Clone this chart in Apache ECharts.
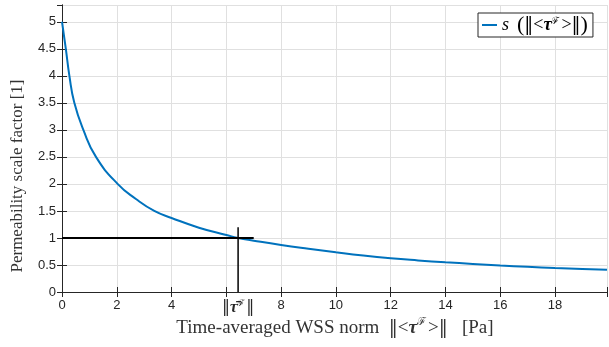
<!DOCTYPE html>
<html><head><meta charset="utf-8">
<script src="https://cdn.jsdelivr.net/npm/echarts@6/dist/echarts.min.js"></script>
<style>html,body{margin:0;padding:0;background:#fff}#c{width:609px;height:347px}</style>
</head><body><div id="c"></div>
<script>
// Curve s(||<tau>||)
const wssX = [0, 0.14, 0.27, 0.45, 0.78, 1.24, 2.03, 2.7, 3.37, 4, 5, 6, 6.43, 7, 8, 9, 10, 11, 12, 13, 14, 15, 16, 17, 18, 19, 19.9];
const scaleY = [5, 4.5, 4.0, 3.5, 3.0, 2.5, 2.0, 1.72, 1.5, 1.37, 1.19, 1.055, 1.0, 0.95, 0.87, 0.8, 0.735, 0.675, 0.625, 0.585, 0.55, 0.52, 0.49, 0.465, 0.443, 0.425, 0.41];
// reference lines
const tauBar = 6.43;
const hLineX = [0, 7];
const hLineY = [1, 1];
const vLineX = [tauBar, tauBar];
const vLineY = [0, 1.2];
// axis ticks
const xTickLabels = [0, 2, 4, tauBar, 8, 10, 12, 14, 16, 18];
const xMax = 19.9, yMax = 5.31;

const curve = wssX.map((x, i) => [x, scaleY[i]]);
const hLine = hLineX.map((x, i) => [x, hLineY[i]]);
const vLine = vLineX.map((x, i) => [x, vLineY[i]]);

const axisCol = '#262626';
const titleCol = '#333';
const serif = '"Liberation Serif","DejaVu Serif",serif';
const dserif = '"DejaVu Serif",serif';
const chart = echarts.init(document.getElementById('c'), null, {renderer: 'canvas'});
chart.setOption({
  animation: false,
  backgroundColor: '#fff',
  grid: {left: 62, right: 2, top: 5, bottom: 55},
  legend: {
    left: 478, top: 13, padding: [1, 5, 1, 4],
    backgroundColor: '#fff', borderColor: axisCol, borderWidth: 1,
    itemWidth: 15, itemHeight: 2, itemGap: 2,
    data: [{name: 's', icon: 'rect'}],
    formatter: () => '{i|s}  {p|(}{n|‖}{l|<}{t|τ}{s|ℱ}{l|>}{n|‖}{p|)}',
    textStyle: {
      fontFamily: serif, fontSize: 16, color: '#000',
      rich: {
        i: {fontStyle: 'italic', fontFamily: serif, fontSize: 18},
        p: {fontFamily: serif, fontSize: 22},
        n: {fontFamily: dserif, fontSize: 18},
        l: {fontFamily: serif, fontSize: 18},
        t: {fontFamily: serif, fontSize: 18, fontStyle: 'italic', fontWeight: 'bold'},
        s: {fontFamily: serif, fontSize: 10, verticalAlign: 'bottom', padding: [0, 2, 10, 0]}
      }
    }
  },
  xAxis: [{
    type: 'value', min: 0, max: xMax, interval: 2,
    axisLine: {show: true, onZero: false, lineStyle: {color: axisCol, width: 1}},
    axisTick: {inside: true, length: 5, lineStyle: {color: axisCol}},
    axisLabel: {
      customValues: xTickLabels,
      color: axisCol, fontFamily: '"Liberation Sans",Arial,sans-serif', fontSize: 13, margin: 7,
      formatter: v => Math.abs(v - tauBar) < 1e-6 ? '{n|‖}{t|τ̄}{s|ℱ}{n|‖}' : String(v),
      rich: {
        n: {fontFamily: dserif, fontSize: 16, color: axisCol},
        t: {fontFamily: serif, fontSize: 16, fontStyle: 'italic', fontWeight: 'bold', color: axisCol},
        s: {fontFamily: serif, fontSize: 9, verticalAlign: 'bottom', padding: [0, 2, 9, 0], color: axisCol}
      }
    },
    splitLine: {show: true, lineStyle: {color: '#e0e0e0', width: 1}}
  }, {
    type: 'value', position: 'top', min: 0, max: xMax, interval: 2,
    axisLine: {show: true, lineStyle: {color: axisCol, width: 1}},
    axisTick: {inside: true, length: 5, lineStyle: {color: axisCol}},
    axisLabel: {show: false}, splitLine: {show: false}
  }],
  yAxis: [{
    type: 'value', min: 0, max: yMax, interval: 0.5,
    axisLine: {show: true, onZero: false, lineStyle: {color: axisCol, width: 1}},
    axisTick: {show: true, inside: true, length: 5, lineStyle: {color: axisCol}},
    axisLabel: {color: axisCol, fontFamily: '"Liberation Sans",Arial,sans-serif', fontSize: 13, margin: 6, showMaxLabel: false,
      formatter: v => (v > 5.01 ? '' : String(v))},
    splitLine: {show: true, lineStyle: {color: '#e0e0e0', width: 1}}
  }, {
    type: 'value', position: 'right', min: 0, max: yMax, interval: 0.5,
    axisLine: {show: true, lineStyle: {color: axisCol, width: 1}},
    axisTick: {show: true, inside: true, length: 5, lineStyle: {color: axisCol}},
    axisLabel: {show: false}, splitLine: {show: false}
  }],
  graphic: [
    {type: 'text', x: 335, y: 328, z: 10,
     style: {text: 'Time-averaged WSS norm  {n|‖}{l|<}{t|τ}{s|ℱ}{l|>}{n|‖}   [Pa]', fill: titleCol, font: '19px ' + serif,
       align: 'center', verticalAlign: 'middle',
       rich: {
         n: {fontFamily: dserif, fontSize: 18, fill: titleCol},
         l: {fontFamily: serif, fontSize: 19, fill: titleCol},
         t: {fontFamily: serif, fontSize: 19, fontStyle: 'italic', fontWeight: 'bold', fill: titleCol},
         s: {fontFamily: serif, fontSize: 11, verticalAlign: 'bottom', padding: [0, 2, 11, 0], fill: titleCol}
       }}},
    {type: 'text', x: 18, y: 176, rotation: Math.PI / 2, z: 10,
     style: {text: 'Permeability scale factor [1]', fill: titleCol, font: '17px ' + serif, align: 'center', verticalAlign: 'middle'}}
  ],
  series: [
    {name: 's', type: 'line', data: curve, smooth: 0.5, symbol: 'none',
     lineStyle: {color: '#0072BD', width: 2}, itemStyle: {color: '#0072BD'}, z: 3},
    {name: 'h', type: 'line', data: hLine, symbol: 'none', lineStyle: {color: '#000', width: 2}, z: 4},
    {name: 'v', type: 'line', data: vLine, symbol: 'none', lineStyle: {color: '#000', width: 1.5}, z: 4}
  ]
});
</script></body></html>
